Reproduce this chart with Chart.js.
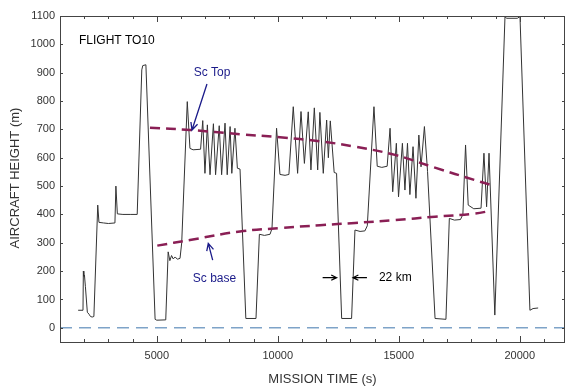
<!DOCTYPE html>
<html>
<head>
<meta charset="utf-8">
<script src="https://cdn.jsdelivr.net/npm/chart.js@4.4.0/dist/chart.umd.min.js"></script>
<style>
  html, body { margin: 0; padding: 0; background: #fff; }
  #wrap { width: 566px; height: 386px; }
</style>
</head>
<body>
<div id="wrap"><canvas id="chart" width="566" height="386"></canvas></div>
<script>
// flight track
const missionTime = [
  1750, 1950, 1965, 1985, 2010, 2050, 2130, 2200, 2260, 2330, 2400,
  2560, 2610, 2800, 3000, 3270, 3310, 3370, 3600, 3900, 4190,
  4380, 4420, 4550, 4930, 5000, 5370, 5470, 5540, 5610, 5680, 5760, 5850, 5960, 6030,
  6260, 6370, 6500, 6810, 6900, 6990, 7090, 7200, 7340, 7430, 7580, 7680, 7820, 7910, 8030, 8100, 8230, 8330, 8440,
  8680, 9100, 9240, 9450, 9680, 9760,
  9950, 10090, 10300, 10460, 10640, 10820, 10960, 11100, 11260, 11370, 11510, 11650, 11740, 11880, 12020, 12090, 12170, 12330, 12430,
  12640, 13050, 13190, 13400, 13600, 13700,
  13975, 14110, 14300, 14520, 14640, 14750, 14900, 14990, 15150, 15255, 15360, 15460, 15590, 15710, 15830, 15920, 16060, 16190,
  16500, 16950, 17090, 17300, 17550, 17650, 17760, 17870, 18100, 18400, 18520, 18630, 18730,
  18970, 19390, 19450, 19900, 20010, 20420, 20550, 20760
];
const aircraftHeight = [
  62, 62, 200, 182, 186, 145, 55, 48, 40, 38, 40,
  433, 372, 370, 368, 370, 500, 402, 400, 400, 400,
  910, 925, 928, 30, 27, 28, 268, 237, 255, 243, 250, 242, 245, 300,
  798, 633, 628, 630, 731, 545, 716, 540, 720, 540, 713, 540, 722, 540, 710, 545, 704, 563, 560,
  33, 33, 330, 326, 330, 350,
  704, 541, 538, 541, 780, 545, 763, 580, 762, 557, 776, 557, 760, 545, 733, 600, 730, 548, 545,
  33, 33, 345, 340, 342, 360,
  780, 570, 566, 570, 704, 480, 651, 462, 651, 486, 651, 470, 639, 457, 680, 568, 710, 551,
  33, 30, 386, 380, 382, 400, 645, 433, 420, 422, 616, 427, 616,
  45, 1098, 1092, 1092, 1098, 62, 68, 70
];

// stratocumulus top and base (dashed curves)
const scTopTime = [4719, 6372, 8438, 10090, 11743, 13190, 14843, 16496, 18148, 18810];
const scTopHeight = [706, 698, 683, 672, 658, 639, 610, 565, 521, 504];
const scBaseTime = [5021, 6372, 8438, 10090, 11743, 13190, 14843, 16496, 18148, 18810];
const scBaseHeight = [290, 310, 340, 352, 362, 370, 380, 392, 403, 413];

// axes
const xMin = 1000, xMax = 21870;
const yMin = -50, yMax = 1100;
const xTickValues = [1000, 2000, 3000, 4000, 5000, 6000, 7000, 8000, 9000, 10000, 11000,
  12000, 13000, 14000, 15000, 16000, 17000, 18000, 19000, 20000, 21000];
const xLabelValues = [5000, 10000, 15000, 20000];
const yTickValues = [0, 100, 200, 300, 400, 500, 600, 700, 800, 900, 1000, 1100];

const FONT = 'Liberation Sans, Arial, sans-serif';

function toPts(xs, ys) {
  return xs.map((v, i) => ({ x: v, y: ys[i] }));
}

function arrow(ctx, x1, y1, x2, y2, head) {
  const ang = Math.atan2(y2 - y1, x2 - x1);
  ctx.beginPath();
  ctx.moveTo(x1, y1);
  ctx.lineTo(x2, y2);
  ctx.moveTo(x2 - head * Math.cos(ang - 0.45), y2 - head * Math.sin(ang - 0.45));
  ctx.lineTo(x2, y2);
  ctx.lineTo(x2 - head * Math.cos(ang + 0.45), y2 - head * Math.sin(ang + 0.45));
  ctx.stroke();
}

const overlay = {
  id: 'overlay',
  afterDraw(chart) {
    const { ctx, chartArea: a } = chart;
    const x = chart.scales.x, y = chart.scales.y;
    ctx.save();

    // frame
    ctx.strokeStyle = '#444';
    ctx.lineWidth = 1;
    ctx.strokeRect(a.left + 0.5, a.top + 0.5, a.right - a.left - 1, a.bottom - a.top);

    // inward tick marks
    ctx.beginPath();
    xTickValues.forEach(v => {
      const px = Math.round(x.getPixelForValue(v)) + 0.5;
      const len = v % 5000 === 0 ? 6 : 3;
      ctx.moveTo(px, a.bottom); ctx.lineTo(px, a.bottom - len);
      ctx.moveTo(px, a.top); ctx.lineTo(px, a.top + len);
    });
    yTickValues.forEach(v => {
      const py = Math.round(y.getPixelForValue(v)) + 0.5;
      ctx.moveTo(a.left, py); ctx.lineTo(a.left + 3, py);
      ctx.moveTo(a.right, py); ctx.lineTo(a.right - 3, py);
    });
    ctx.stroke();

    // axis titles
    ctx.fillStyle = '#333';
    ctx.font = '13px ' + FONT;
    ctx.textAlign = 'center';
    ctx.textBaseline = 'middle';
    ctx.fillText('MISSION TIME (s)', (a.left + a.right) / 2 + 10, 379);
    ctx.save();
    ctx.translate(15, 178);
    ctx.rotate(-Math.PI / 2);
    ctx.fillText('AIRCRAFT HEIGHT (m)', 0, 0);
    ctx.restore();

    // annotations
    ctx.font = '12px ' + FONT;
    ctx.fillStyle = '#000';
    ctx.textAlign = 'left';
    ctx.fillText('FLIGHT TO10', x.getPixelForValue(1785), y.getPixelForValue(1012));
    ctx.fillText('22 km', x.getPixelForValue(14181), y.getPixelForValue(176));

    ctx.fillStyle = '#1b1b8a';
    ctx.textAlign = 'center';
    ctx.fillText('Sc Top', x.getPixelForValue(7281), y.getPixelForValue(899));
    ctx.fillText('Sc base', x.getPixelForValue(7384), y.getPixelForValue(175));

    ctx.strokeStyle = '#1b1b8a';
    ctx.lineWidth = 1.3;
    arrow(ctx, x.getPixelForValue(7074), y.getPixelForValue(860),
      x.getPixelForValue(6455), y.getPixelForValue(698), 8);
    arrow(ctx, x.getPixelForValue(7310), y.getPixelForValue(239),
      x.getPixelForValue(7128), y.getPixelForValue(298), 8);

    ctx.strokeStyle = '#000';
    ctx.lineWidth = 1.2;
    arrow(ctx, x.getPixelForValue(11854), y.getPixelForValue(177),
      x.getPixelForValue(12433), y.getPixelForValue(177), 6);
    arrow(ctx, x.getPixelForValue(13685), y.getPixelForValue(177),
      x.getPixelForValue(13107), y.getPixelForValue(177), 6);

    ctx.restore();
  }
};

const ctx = document.getElementById('chart').getContext('2d');
const chart = new Chart(ctx, {
  type: 'line',
  data: {
    datasets: [
      {
        label: 'Sc top',
        data: toPts(scTopTime, scTopHeight),
        borderColor: '#8a1f55',
        borderWidth: 2.5,
        borderDash: [10, 6],
        pointRadius: 0,
        tension: 0.4,
        order: 0
      },
      {
        label: 'Sc base',
        data: toPts(scBaseTime, scBaseHeight),
        borderColor: '#8a1f55',
        borderWidth: 2.5,
        borderDash: [10, 6],
        pointRadius: 0,
        tension: 0.4,
        order: 0
      },
      {
        label: 'Aircraft height',
        data: toPts(missionTime, aircraftHeight),
        borderColor: '#333',
        borderWidth: 1,
        pointRadius: 0,
        tension: 0,
        order: 1
      },
      {
        label: 'Zero',
        data: [{ x: xMin, y: 0 }, { x: xMax, y: 0 }],
        borderColor: '#7ea3c8',
        borderWidth: 1.5,
        borderDash: [12, 7],
        pointRadius: 0,
        order: 2
      }
    ]
  },
  options: {
    responsive: false,
    animation: false,
    devicePixelRatio: 1,
    layout: { padding: { top: 16, right: 1, left: 0, bottom: 0 } },
    plugins: {
      legend: { display: false },
      tooltip: { enabled: false }
    },
    scales: {
      x: {
        type: 'linear',
        min: xMin,
        max: xMax,
        afterBuildTicks: s => { s.ticks = xTickValues.map(v => ({ value: v })); },
        afterFit: s => { s.height = 44; },
        grid: { display: false, drawTicks: false },
        border: { display: false },
        ticks: {
          autoSkip: false,
          maxRotation: 0,
          padding: 7,
          color: '#333',
          font: { family: FONT, size: 11 },
          callback: v => (xLabelValues.includes(v) ? String(v) : '')
        }
      },
      y: {
        type: 'linear',
        min: yMin,
        max: yMax,
        afterBuildTicks: s => { s.ticks = yTickValues.map(v => ({ value: v })); },
        afterFit: s => { s.width = 60; },
        grid: { display: false, drawTicks: false },
        border: { display: false },
        ticks: {
          autoSkip: false,
          padding: 5,
          color: '#333',
          font: { family: FONT, size: 11 },
          callback: v => String(v)
        }
      }
    }
  },
  plugins: [overlay]
});
</script>
</body>
</html>
